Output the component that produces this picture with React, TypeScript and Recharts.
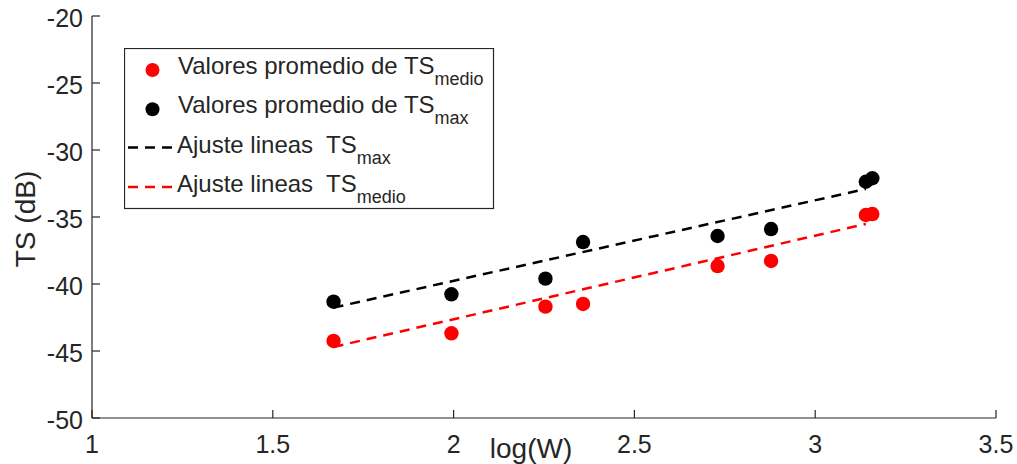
import React from 'react';
import { ComposedChart, XAxis, YAxis, Scatter, Line, Label } from 'recharts';

const logW = [1.668, 1.994, 2.254, 2.358, 2.73, 2.878, 3.14, 3.158];
const tsMedio = [-44.25, -43.68, -41.69, -41.49, -38.66, -38.28, -34.85, -34.78];
const tsMax = [-41.32, -40.77, -39.6, -36.87, -36.42, -35.9, -32.37, -32.11];

const fitX = [1.668, 3.14];
const fitMaxY = [-41.76, -32.91];
const fitMedioY = [-44.7, -35.52];

const xTicks = [1, 1.5, 2, 2.5, 3, 3.5];
const yTicks = [-50, -45, -40, -35, -30, -25, -20];

const medioData = logW.map((x, i) => ({ x, y: tsMedio[i] }));
const maxData = logW.map((x, i) => ({ x, y: tsMax[i] }));
const fitMaxData = fitX.map((x, i) => ({ x, y: fitMaxY[i] }));
const fitMedioData = fitX.map((x, i) => ({ x, y: fitMedioY[i] }));

const FONT = '"Liberation Sans", Arial, Helvetica, sans-serif';
const AX = '#262626';
const TL = 8;
const DASH = '10 7';

const BottomTick = (p: any) => (
  <g>
    <line x1={p.x} y1={p.y} x2={p.x} y2={p.y - TL} stroke={AX} strokeWidth={1.2} />
    <text x={p.x} y={p.y + 35} textAnchor="middle" fontSize={25} fontFamily={FONT} fill={AX}>
      {String(p.payload.value)}
    </text>
  </g>
);
const TopTick = (p: any) => (
  <line x1={p.x} y1={p.y} x2={p.x} y2={p.y + TL} stroke={AX} strokeWidth={1.2} />
);
const LeftTick = (p: any) => (
  <g>
    <line x1={p.x} y1={p.y} x2={p.x + TL} y2={p.y} stroke={AX} strokeWidth={1.2} />
    <text x={p.x - 9} y={p.y + 11} textAnchor="end" fontSize={25} fontFamily={FONT} fill={AX}>
      {String(p.payload.value)}
    </text>
  </g>
);
const RightTick = (p: any) => (
  <line x1={p.x} y1={p.y} x2={p.x - TL} y2={p.y} stroke={AX} strokeWidth={1.2} />
);

const dot = (color: string) => (p: any) => <circle cx={p.cx} cy={p.cy} r={7.2} fill={color} />;

const YLabel = (props: any) => {
  const vb = props.viewBox;
  const cx = 35;
  const cy = vb.y + vb.height / 2 + 2;
  return (
    <text
      x={cx}
      y={cy}
      transform={`rotate(-90, ${cx}, ${cy})`}
      textAnchor="middle"
      fontSize={28}
      fontFamily={FONT}
      fill={AX}
    >
      TS (dB)
    </text>
  );
};

const legendRows = [
  { kind: 'dot', color: '#ff0000', main: 'Valores promedio de TS', sub: 'medio' },
  { kind: 'dot', color: '#000000', main: 'Valores promedio de TS', sub: 'max' },
  { kind: 'line', color: '#000000', main: 'Ajuste lineas\u00A0 TS', sub: 'max' },
  { kind: 'line', color: '#ff0000', main: 'Ajuste lineas\u00A0 TS', sub: 'medio' },
];

const LegendBox = () => (
  <svg
    width={371}
    height={162}
    style={{ position: 'absolute', left: 124, top: 48 }}
  >
    <rect x={0.5} y={0.5} width={369} height={160} fill="#ffffff" stroke={AX} strokeWidth={1.2} />
    {legendRows.map((r, i) => {
      const base = 26 + i * 39.3;
      return (
        <g key={i}>
          {r.kind === 'dot' ? (
            <circle cx={28.5} cy={base - 4} r={7} fill={r.color} />
          ) : (
            <line x1={4} y1={base - 5} x2={48} y2={base - 5} stroke={r.color} strokeWidth={2.5} strokeDasharray={DASH} />
          )}
          <text x={r.kind === 'dot' ? 54 : 53} y={base} fontSize={24} fontFamily={FONT} fill={AX}>
            {r.main}
            <tspan fontSize={18} dy={11}>{r.sub}</tspan>
          </text>
        </g>
      );
    })}
  </svg>
);

export default function App() {
  return (
    <div style={{ position: 'absolute', left: 0, top: 0, width: 1017, height: 464, background: '#fff' }}>
      <ComposedChart width={1017} height={464} margin={{ top: 16, right: 21, bottom: 0, left: 0 }}>
        <XAxis
          xAxisId="b"
          dataKey="x"
          type="number"
          orientation="bottom"
          domain={[1, 3.5]}
          ticks={xTicks}
          interval={0}
          allowDataOverflow
          height={46}
          tickSize={0}
          tickMargin={0}
          tick={<BottomTick />}
          tickLine={false}
          axisLine={{ stroke: AX, strokeWidth: 1.2 }}
        >
          <Label
            value="log(W)"
            position="insideBottom"
            offset={6}
            dx={-13}
            fontSize={28}
            fontFamily={FONT}
            fill={AX}
          />
        </XAxis>
        <XAxis
          xAxisId="t"
          dataKey="x"
          type="number"
          orientation="top"
          domain={[1, 3.5]}
          ticks={xTicks}
          interval={0}
          allowDataOverflow
          height={0}
          tickSize={0}
          tickMargin={0}
          tick={<TopTick />}
          tickLine={false}
          axisLine={{ stroke: AX, strokeWidth: 1.2 }}
        />
        <YAxis
          yAxisId="l"
          type="number"
          orientation="left"
          domain={[-50, -20]}
          ticks={yTicks}
          interval={0}
          allowDataOverflow
          width={92}
          tickSize={0}
          tickMargin={0}
          tick={<LeftTick />}
          tickLine={false}
          axisLine={{ stroke: AX, strokeWidth: 1.2 }}
        >
          <Label content={<YLabel />} />
        </YAxis>
        <YAxis
          yAxisId="r"
          type="number"
          orientation="right"
          domain={[-50, -20]}
          ticks={yTicks}
          interval={0}
          allowDataOverflow
          width={0}
          tickSize={0}
          tickMargin={0}
          tick={<RightTick />}
          tickLine={false}
          axisLine={{ stroke: AX, strokeWidth: 1.2 }}
        />
        <Line
          xAxisId="b"
          yAxisId="l"
          data={fitMaxData}
          dataKey="y"
          type="linear"
          stroke="#000000"
          strokeWidth={2.5}
          strokeDasharray={DASH}
          dot={false}
          activeDot={false}
          isAnimationActive={false}
        />
        <Line
          xAxisId="b"
          yAxisId="l"
          data={fitMedioData}
          dataKey="y"
          type="linear"
          stroke="#ff0000"
          strokeWidth={2.5}
          strokeDasharray={DASH}
          dot={false}
          activeDot={false}
          isAnimationActive={false}
        />
        <Scatter
          xAxisId="b"
          yAxisId="l"
          data={medioData}
          dataKey="y"
          fill="#ff0000"
          shape={dot('#ff0000')}
          isAnimationActive={false}
        />
        <Scatter
          xAxisId="b"
          yAxisId="l"
          data={maxData}
          dataKey="y"
          fill="#000000"
          shape={dot('#000000')}
          isAnimationActive={false}
        />
      </ComposedChart>
      <LegendBox />
    </div>
  );
}
